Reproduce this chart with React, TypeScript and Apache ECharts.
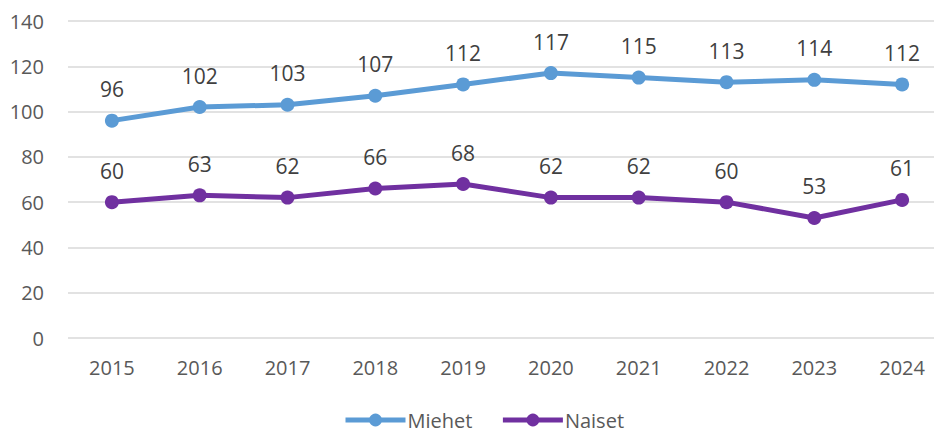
import React, { useEffect, useRef } from "react";
import * as echarts from "echarts";

const years = ["2015", "2016", "2017", "2018", "2019", "2020", "2021", "2022", "2023", "2024"];
const miehet = [96, 102, 103, 107, 112, 117, 115, 113, 114, 112];
const naiset = [60, 63, 62, 66, 68, 62, 62, 60, 53, 61];

const FONT = "'Open Sans', 'Liberation Sans', sans-serif";

export default function App() {
  const ref = useRef<HTMLDivElement>(null);
  useEffect(() => {
    document.body.style.margin = "0";
    const chart = echarts.init(ref.current!, null, { renderer: "svg" });
    const label = {
      show: true,
      position: "top",
      distance: 14,
      fontSize: 21,
      color: "#404040",
      fontFamily: FONT,
    };
    chart.setOption({
      animation: false,
      textStyle: { fontFamily: FONT },
      grid: { left: 68, top: 21, width: 878, height: 317, containLabel: false },
      xAxis: {
        type: "category",
        data: years,
        boundaryGap: true,
        axisLine: { show: false },
        axisTick: { show: false },
        axisLabel: { fontSize: 20, color: "#595959", margin: 19, fontFamily: FONT },
      },
      yAxis: {
        type: "value",
        min: 0,
        max: 140,
        interval: 20,
        axisLine: { show: false },
        axisTick: { show: false },
        splitLine: { lineStyle: { color: "#d9d9d9", width: 1.5 } },
        axisLabel: { fontSize: 20, color: "#595959", margin: 24, fontFamily: FONT },
      },
      legend: {
        top: 410,
        left: 343,
        itemWidth: 60,
        itemHeight: 16,
        itemGap: 28,
        padding: 0,
        lineStyle: { width: 5 },
        textStyle: { fontSize: 20, lineHeight: 19, color: "#595959", fontFamily: FONT, padding: [0, 0, 0, -3] },
        data: ["Miehet", "Naiset"],
      },
      series: [
        {
          name: "Miehet",
          type: "line",
          data: miehet,
          symbol: "circle",
          symbolSize: 14,
          lineStyle: { width: 5, color: "#5B9BD5" },
          itemStyle: { color: "#5B9BD5" },
          label,
        },
        {
          name: "Naiset",
          type: "line",
          data: naiset,
          symbol: "circle",
          symbolSize: 14,
          lineStyle: { width: 5, color: "#7030A0" },
          itemStyle: { color: "#7030A0" },
          label,
        },
      ],
    });
    return () => chart.dispose();
  }, []);
  return (
    <div style={{ position: "absolute", left: 0, top: 0, width: 934, height: 434, overflow: "hidden" }}>
      <div ref={ref} style={{ width: 960, height: 434 }} />
    </div>
  );
}
